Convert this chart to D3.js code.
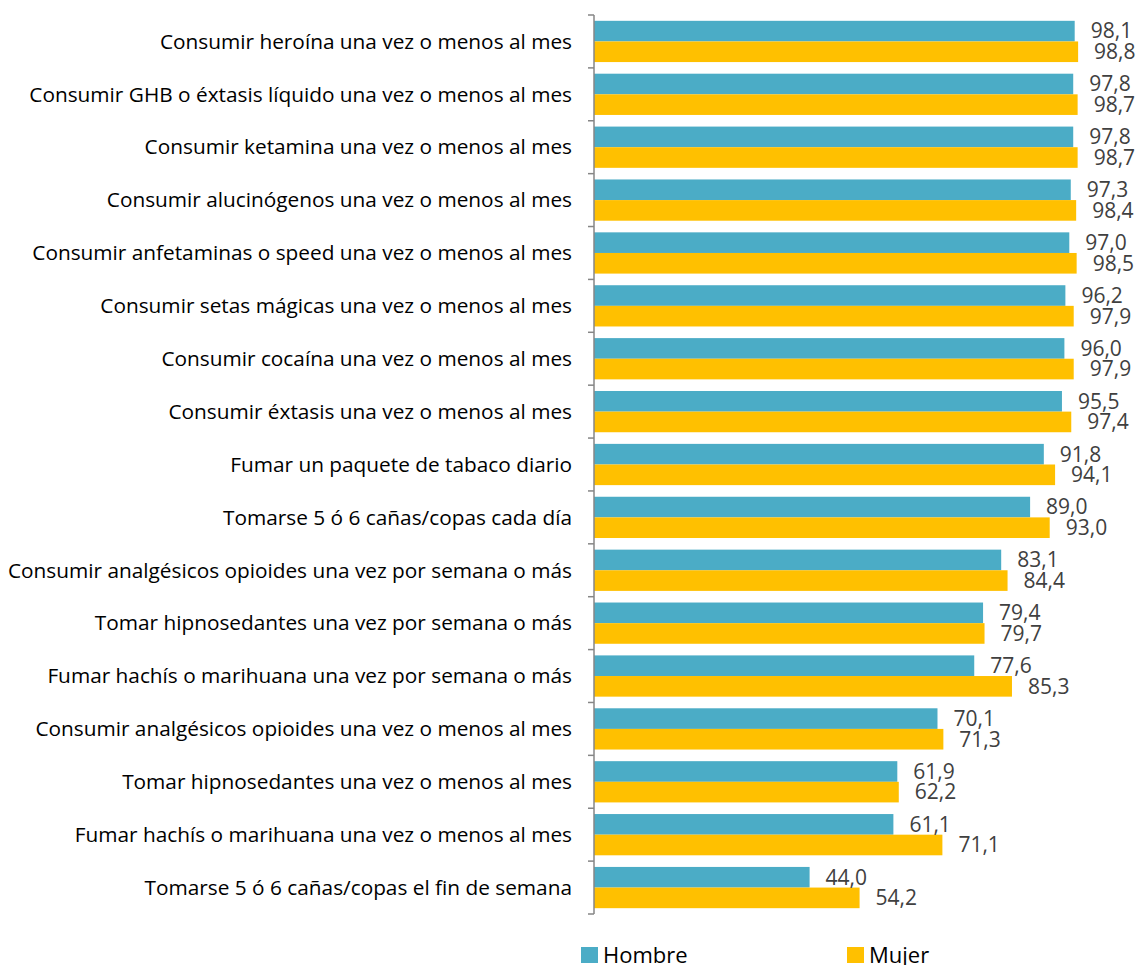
<!DOCTYPE html>
<html lang="es">
<head>
  <meta charset="UTF-8">
  <title>Riesgo percibido</title>
  <script src="https://d3js.org/d3.v7.min.js"></script>
  <style>
    body { margin: 0; background: #fff; }
    svg { display: block; font-family: "Open Sans", Lato, sans-serif; }
    .cat { font-size: 20.8px; fill: #000; }
    .val { font-size: 21px; fill: #404040; }
    .leg { font-size: 22px; fill: #000; }
  </style>
</head>
<body>
  <svg id="chart"></svg>
  <script>
    const categories = [
      "Consumir heroína una vez o menos al mes",
      "Consumir GHB o éxtasis líquido una vez o menos al mes",
      "Consumir ketamina una vez o menos al mes",
      "Consumir alucinógenos una vez o menos al mes",
      "Consumir anfetaminas o speed una vez o menos al mes",
      "Consumir setas mágicas una vez o menos al mes",
      "Consumir cocaína una vez o menos al mes",
      "Consumir éxtasis una vez o menos al mes",
      "Fumar un paquete de tabaco diario",
      "Tomarse 5 ó 6 cañas/copas cada día",
      "Consumir analgésicos opioides una vez por semana o más",
      "Tomar hipnosedantes una vez por semana o más",
      "Fumar hachís o marihuana una vez por semana o más",
      "Consumir analgésicos opioides una vez o menos al mes",
      "Tomar hipnosedantes una vez o menos al mes",
      "Fumar hachís o marihuana una vez o menos al mes",
      "Tomarse 5 ó 6 cañas/copas el fin de semana"
    ];
    const hombre = [98.1, 97.8, 97.8, 97.3, 97.0, 96.2, 96.0, 95.5, 91.8, 89.0, 83.1, 79.4, 77.6, 70.1, 61.9, 61.1, 44.0];
    const mujer  = [98.8, 98.7, 98.7, 98.4, 98.5, 97.9, 97.9, 97.4, 94.1, 93.0, 84.4, 79.7, 85.3, 71.3, 62.2, 71.1, 54.2];
    const seriesNames = ["Hombre", "Mujer"];
    const colors = ["#4BACC6", "#FFC000"];

    const W = 1138, H = 965;
    const svg = d3.select("#chart").attr("width", W).attr("height", H);

    const data = categories.map((c, i) => ({ cat: c, vals: [hombre[i], mujer[i]] }));

    const x = d3.scaleLinear().domain([0, 100]).range([594, 1084]);
    const y = d3.scaleBand().domain(categories).range([15, 914])
      .paddingInner(0.22).paddingOuter(0.11);
    const ys = d3.scaleBand().domain([0, 1]).range([0, y.bandwidth()]);

    // barras
    const groups = svg.selectAll(".grp").data(data).enter().append("g")
      .attr("transform", d => `translate(0,${y(d.cat)})`);

    groups.selectAll("rect").data(d => d.vals).enter().append("rect")
      .attr("x", x(0))
      .attr("y", (v, i) => ys(i))
      .attr("width", v => x(v) - x(0))
      .attr("height", ys.bandwidth())
      .attr("fill", (v, i) => colors[i]);

    groups.selectAll(".val").data(d => d.vals).enter().append("text")
      .attr("class", "val")
      .attr("x", v => x(v) + 16)
      .attr("y", (v, i) => ys(i) + ys.bandwidth() / 2)
      .attr("dy", "0.35em")
      .text(v => v.toFixed(1).replace(".", ","));

    // eje
    const axis = svg.append("g")
      .attr("transform", `translate(${x(0)},0)`)
      .call(d3.axisLeft(y).tickSize(0).tickFormat(""));
    axis.select(".domain").attr("stroke", "#868686").attr("stroke-width", 1.5)
      .attr("d", "M0,15V914");
    const edges = categories.map(c => y(c) - y.step() * y.paddingInner() / 2).concat([914]);
    axis.selectAll(".edge").data(edges).enter().append("line")
      .attr("x1", -6).attr("x2", 0)
      .attr("y1", d => d).attr("y2", d => d)
      .attr("stroke", "#868686").attr("stroke-width", 1.5);

    svg.selectAll(".cat").data(categories).enter().append("text")
      .attr("class", "cat")
      .attr("x", 572)
      .attr("y", d => y(d) + y.bandwidth() / 2)
      .attr("dy", "0.35em")
      .attr("text-anchor", "end")
      .text(d => d);

    // leyenda
    const legX = [581, 847];
    const leg = svg.selectAll(".legi").data(seriesNames).enter().append("g")
      .attr("transform", (d, i) => `translate(${legX[i]},947)`);
    leg.append("rect").attr("width", 17).attr("height", 16).attr("fill", (d, i) => colors[i]);
    leg.append("text").attr("class", "leg").attr("x", 22).attr("y", 8).attr("dy", "0.36em").text(d => d);
  </script>
</body>
</html>
